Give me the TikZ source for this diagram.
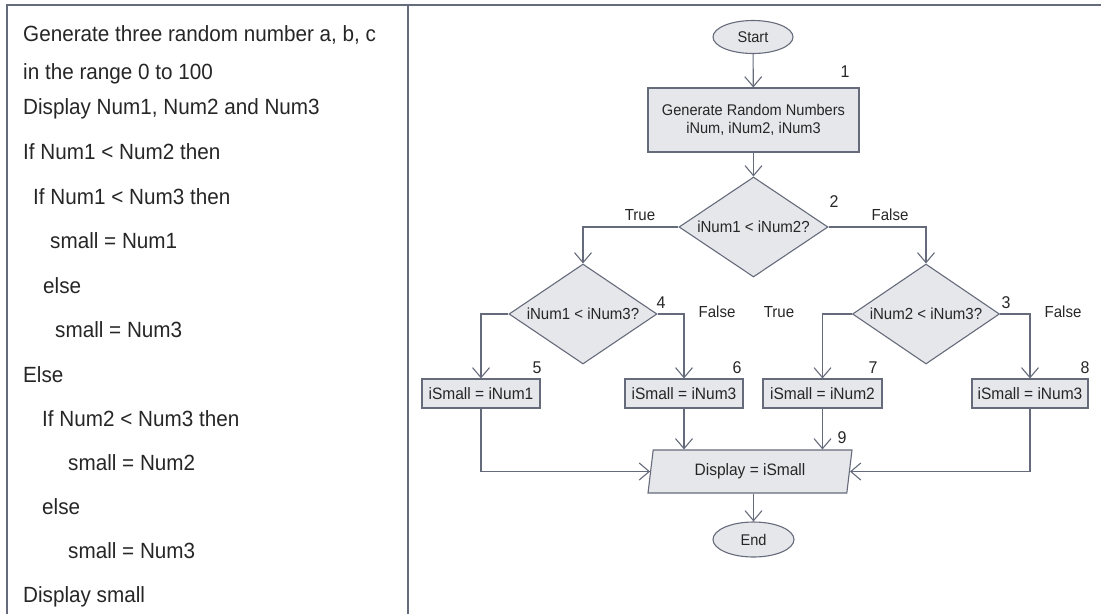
\documentclass[tikz,border=0pt]{standalone}
\usepackage{fontspec}
\setmainfont{Liberation Sans}[FakeStretch=0.94]
\usetikzlibrary{shapes.geometric,arrows.meta}
\definecolor{linec}{HTML}{656B7A}
\definecolor{fillc}{HTML}{E6E7EB}
\definecolor{textc}{HTML}{262626}
\begin{document}
\begin{tikzpicture}[x=1pt,y=-1pt,
  every node/.style={text=textc},
  code/.style={anchor=base west,inner sep=0pt,font=\fontsize{22}{26}\selectfont},
  flow/.style={draw=linec,fill=fillc,line width=1.1pt,font=\fontsize{15.5}{18}\selectfont,inner sep=2pt},
  term/.style={flow,ellipse,minimum width=80pt,minimum height=33pt},
  procbox/.style={flow,rectangle,minimum height=29pt},
  assign/.style={procbox,font=\fontsize{16.5}{18}\selectfont},
  decision/.style={flow,diamond,aspect=1.5,minimum width=148pt,minimum height=100pt,inner sep=0pt,
    font=\fontsize{16}{18}\selectfont},
  iobox/.style={flow,trapezium,trapezium left angle=81,trapezium right angle=99,
    trapezium stretches=true,minimum width=204pt,minimum height=43pt,font=\fontsize{16.5}{18}\selectfont},
  lbl/.style={inner sep=0pt,font=\fontsize{16}{18}\selectfont},
  numlbl/.style={inner sep=0pt,font=\fontsize{17}{18}\selectfont},
  link/.style={draw=linec,line width=1.1pt,-{Straight Barb[length=10pt,width=17pt,line width=1.1pt]}}
]
\useasboundingbox (0,0) rectangle (1101,614);

% frame: top rule, left rule and column divider
\coordinate (tl) at (7,5);
\coordinate (tr) at (1101,5);
\coordinate (bl) at (7,614);
\coordinate (dt) at (408,5);
\coordinate (db) at (408,614);
\draw[linec,line width=1.4pt] (bl) -- (tl) -- (tr);
\draw[linec,line width=1.4pt] (dt) -- (db);

% pseudocode
\node[code] (p1)  at (23,41)  {Generate three random number a, b, c};
\node[code] (p2)  at (23,79)  {in the range 0 to 100};
\node[code] (p3)  at (23,114) {Display Num1, Num2 and Num3};
\node[code] (p4)  at (23,159) {If Num1 < Num2 then};
\node[code] (p5)  at (33,204) {If Num1 < Num3 then};
\node[code] (p6)  at (50,248) {small = Num1};
\node[code] (p7)  at (43,293) {else};
\node[code] (p8)  at (55,337) {small = Num3};
\node[code] (p9)  at (23,382) {Else};
\node[code] (p10) at (42,426) {If Num2 < Num3 then};
\node[code] (p11) at (68,470) {small = Num2};
\node[code] (p12) at (42,514) {else};
\node[code] (p13) at (68,558) {small = Num3};
\node[code] (p14) at (23,602) {Display small};

% flowchart nodes
\node[term] (start) at (753,37) {Start};
\node[procbox,minimum width=211pt,minimum height=64pt,align=center] (gen) at (753.5,120)
  {Generate Random Numbers\\iNum, iNum2, iNum3};
\node[decision,minimum width=149pt] (d2) at (753.5,227) {iNum1 < iNum2?};
\node[decision] (d4) at (583,314) {iNum1 < iNum3?};
\node[decision,minimum width=147pt] (d3) at (926,314) {iNum2 < iNum3?};
\node[assign,minimum width=118pt] (b5) at (481,393.5) {iSmall = iNum1};
\node[assign,minimum width=118pt] (b6) at (684,393.5) {iSmall = iNum3};
\node[assign,minimum width=119pt] (b7) at (822.5,393.5) {iSmall = iNum2};
\node[assign,minimum width=116pt] (b8) at (1030,393.5) {iSmall = iNum3};
\node[iobox] (disp) at (750,471.5) {Display = iSmall};
\node[term,minimum width=81pt,minimum height=35pt] (end) at (753.5,539.5) {End};

% connectors
\draw[link] (start) -- (gen);
\draw[link] (gen) -- (d2);
\draw[link] (d2.west) -| (d4.north);
\draw[link] (d2.east) -| (d3.north);
\draw[link] (d4.west) -| (b5.north);
\draw[link] (d4.east) -| (b6.north);
\draw[link] (d3.west) -| (b7.north);
\draw[link] (d3.east) -| (b8.north);
\draw[link] (b5.south) |- (disp.west);
\draw[link] (b6.south) -- (b6.south |- disp.north);
\draw[link] (b7.south) -- (b7.south |- disp.north);
\draw[link] (b8.south) |- (disp.east);
\draw[link] (disp.south -| end.north) -- (end.north);

% branch labels
\node[lbl] (t1) at (640,215) {True};
\node[lbl] (f1) at (890,215) {False};
\node[lbl] (f2) at (717,312) {False};
\node[lbl] (t2) at (779,312) {True};
\node[lbl] (f3) at (1063,312) {False};

% step numbers
\node[numlbl] (n1) at (845,72)  {1};
\node[numlbl] (n2) at (834,202) {2};
\node[numlbl] (n4) at (661,303) {4};
\node[numlbl] (n3) at (1006,303) {3};
\node[numlbl] (n5) at (537,368) {5};
\node[numlbl] (n6) at (737,368) {6};
\node[numlbl] (n7) at (873,368) {7};
\node[numlbl] (n8) at (1085,368) {8};
\node[numlbl] (n9) at (842,438) {9};
\end{tikzpicture}
\end{document}
